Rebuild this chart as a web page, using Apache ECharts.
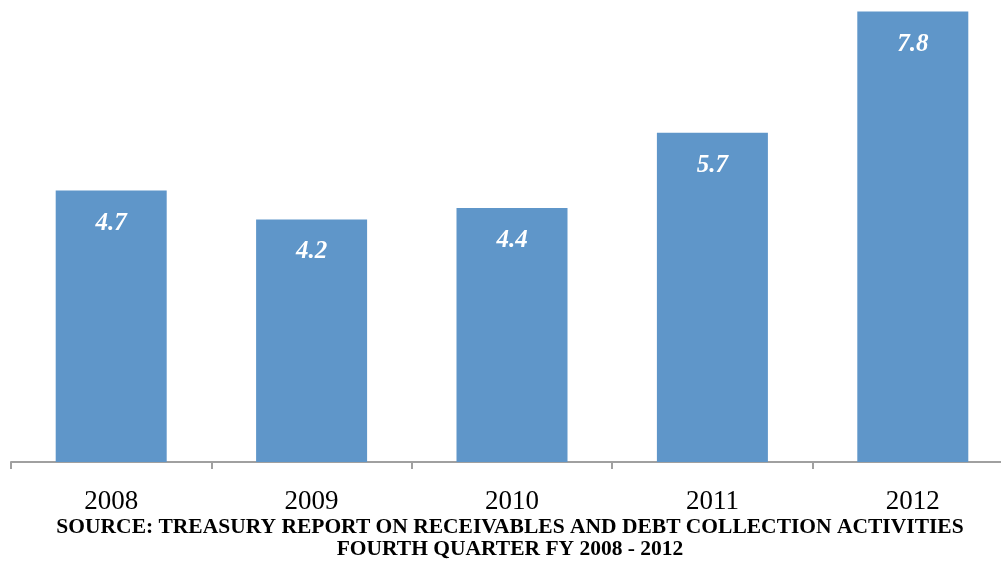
<!DOCTYPE html>
<html>
<head>
<meta charset="utf-8">
<script src="https://cdn.jsdelivr.net/npm/echarts@6/dist/echarts.min.js"></script>
<style>
  html, body { margin: 0; padding: 0; background: #ffffff; }
  #chart { width: 1001px; height: 561px; }
</style>
</head>
<body>
<div id="chart"></div>
<script>
// Delinquent debt referred, by fiscal year
const years = ['2008', '2009', '2010', '2011', '2012'];
const values = [4.7, 4.2, 4.4, 5.7, 7.8];
const sourceLines = [
  'SOURCE: TREASURY REPORT ON RECEIVABLES AND DEBT COLLECTION ACTIVITIES',
  'FOURTH QUARTER FY 2008 - 2012'
];

const chart = echarts.init(document.getElementById('chart'), null, { renderer: 'canvas' });

chart.setOption({
  animation: false,
  backgroundColor: '#ffffff',
  // the plot runs slightly past the right edge of the canvas
  grid: { left: 11, width: 1002, top: 0, height: 462, outerBoundsMode: 'none' },
  xAxis: {
    type: 'category',
    data: years,
    axisLine: { lineStyle: { color: '#a0a0a0', width: 2 } },
    axisTick: { show: true, length: 7, lineStyle: { color: '#a0a0a0', width: 2 } },
    axisLabel: {
      color: '#000000',
      fontFamily: 'Liberation Serif',
      fontSize: 27,
      margin: 26
    }
  },
  yAxis: {
    type: 'value',
    min: 0,
    max: 8,
    show: false,
    splitLine: { show: false }
  },
  series: [{
    type: 'bar',
    data: values,
    barWidth: 111,
    itemStyle: { color: '#5f96c9' },
    label: {
      show: true,
      position: 'insideTop',
      distance: 20,
      color: '#ffffff',
      fontFamily: 'Liberation Serif',
      fontStyle: 'italic',
      fontWeight: 'bold',
      fontSize: 25,
      formatter: p => p.value.toFixed(1)
    }
  }],
  graphic: sourceLines.map((t, i) => ({
    type: 'text',
    x: 510,
    y: 527 + i * 22,
    style: {
      text: t,
      fill: '#000000',
      font: 'bold 21.5px "Liberation Serif"',
      align: 'center',
      verticalAlign: 'middle'
    }
  }))
});
</script>
</body>
</html>
